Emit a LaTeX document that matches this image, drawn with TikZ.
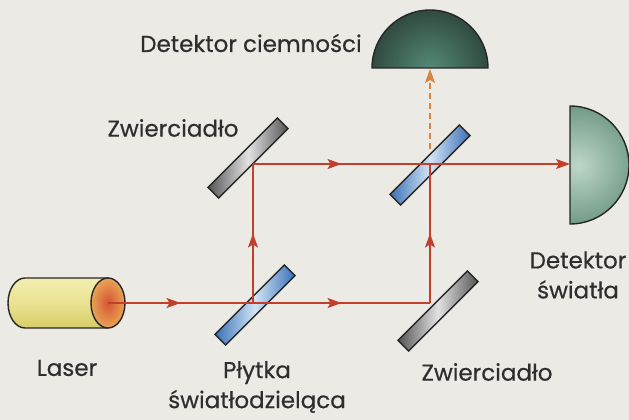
\documentclass[tikz,border=0pt]{standalone}
\usepackage{fontspec}
\setmainfont{Poppins}
\newfontfamily\labelfont{Poppins}[FakeBold=0.5]
\usetikzlibrary{arrows.meta,decorations.markings}

\definecolor{paper}{HTML}{ECEAE5}
\definecolor{beam}{HTML}{C23F2B}
\definecolor{dashbeam}{HTML}{DA8442}
\definecolor{ink}{HTML}{2E2E2E}
\definecolor{mirrordark}{HTML}{555555}
\definecolor{mirrorlight}{HTML}{E2E2E2}
\definecolor{platedark}{HTML}{3A70B8}
\definecolor{platelight}{HTML}{D2E4F4}
\definecolor{darkdetfill}{HTML}{2E463D}
\definecolor{darkdetglow}{HTML}{548A76}
\definecolor{lightdetfill}{HTML}{68947E}
\definecolor{lightdetglow}{HTML}{BED6C8}
\definecolor{lasertop}{HTML}{F2EEB0}
\definecolor{lasermid}{HTML}{EAE292}
\definecolor{laserbot}{HTML}{D6CC68}
\definecolor{facecore}{HTML}{D65434}
\definecolor{faceedge}{HTML}{E8A454}

\tikzset{
  label text/.style={text=ink, font=\labelfont\fontsize{23}{30}\selectfont, align=center, inner sep=0pt},
  plate/.style={draw=black!85, line width=1.4pt, rotate=45, minimum width=98pt,
                minimum height=15pt, inner sep=0pt, shading=axis, shading angle=90},
  mirrorplate/.style={plate, left color=mirrordark, right color=mirrordark, middle color=mirrorlight},
  splitplate/.style={plate, left color=platedark, right color=platedark, middle color=platelight},
  beamline/.style={draw=beam, line width=1.3pt, postaction={decorate},
    decoration={markings, mark=at position 0.5 with {\arrow{Stealth[length=14pt,width=10pt,inset=3pt]}}}},
  beamend/.style={draw=beam, line width=1.3pt, -{Stealth[length=14pt,width=10pt,inset=3pt]}},
  darkbeam/.style={draw=dashbeam, line width=1.3pt, dash pattern=on 6pt off 4pt,
    -{Stealth[length=14pt,width=10pt,inset=3pt]}},
  outline/.style={draw=black!85, line width=1.4pt}
}

\begin{document}
\begin{tikzpicture}[x=1pt,y=-1pt]
  % page
  \fill[paper] (0,0) rectangle (629,420);
  \useasboundingbox (0,0) rectangle (629,420);

  % dark-count detector (top)
  \begin{scope}
    \clip (372,68) arc[start angle=180, end angle=360, radius=58] -- cycle;
    \fill[darkdetfill] (372,8) rectangle (488,68);
    \shade[inner color=darkdetglow, outer color=darkdetfill] (430,68) circle[radius=62];
  \end{scope}
  \draw[outline] (372,68) arc[start angle=180, end angle=360, radius=58] -- cycle;
  \node[minimum size=0pt, inner sep=0pt] (darkdet) at (430,40) {};

  % light detector (right)
  \begin{scope}
    \clip (570,106) arc[start angle=-90, end angle=90, radius=59] -- cycle;
    \shade[inner color=lightdetglow, outer color=lightdetfill] (578,165) circle[radius=66];
  \end{scope}
  \draw[outline] (570,106) arc[start angle=-90, end angle=90, radius=59] -- cycle;
  \node[minimum size=0pt, inner sep=0pt] (lightdet) at (598,165) {};

  % laser
  \draw[outline, top color=lasertop, bottom color=laserbot, middle color=lasermid]
    (25,278) -- (108,278) -- (108,328) -- (25,328)
    arc[start angle=90, end angle=270, x radius=17, y radius=25] -- cycle;
  \draw[outline, inner color=facecore, outer color=faceedge]
    (108,303) ellipse[x radius=17, y radius=25];
  \node[minimum size=0pt, inner sep=0pt] (laser) at (66,303) {};

  % optical elements
  \node[splitplate]  (bs1) at (255,305) {};
  \node[mirrorplate] (m1)  at (248,158) {};
  \node[splitplate]  (bs2) at (430,165) {};
  \node[mirrorplate] (m2)  at (438,311) {};

  % beam path points
  \coordinate (src) at (108,303);
  \coordinate (pa) at (253,303);
  \coordinate (pb) at (253,164);
  \coordinate (pc) at (430,164);
  \coordinate (pd) at (430,303);
  \coordinate (pe) at (570,164);
  \coordinate (pg) at (430,149);
  \coordinate (pf) at (430,69);

  % beams
  \draw[beamline] (src) -- (pa);
  \draw[beamline] (pa) -- (pd);
  \draw[beamline] (pa) -- (pb);
  \draw[beamline] (pb) -- (pc);
  \draw[beamline] (pd) -- (pc);
  \draw[beamend]  (pc) -- (pe);
  \draw[darkbeam] (pg) -- (pf);

  % labels
  \node[label text] (tdark)  at (251,43)  {Detektor ciemności};
  \node[label text] (tm1)    at (173,128) {Zwierciadło};
  \node[label text] (tlight) at (578,275) {Detektor\\światła};
  \node[label text] (tlaser) at (67,368)  {Laser};
  \node[label text] (tbs)    at (257,387) {Płytka\\światłodzieląca};
  \node[label text] (tm2)    at (487,372) {Zwierciadło};
\end{tikzpicture}
\end{document}
